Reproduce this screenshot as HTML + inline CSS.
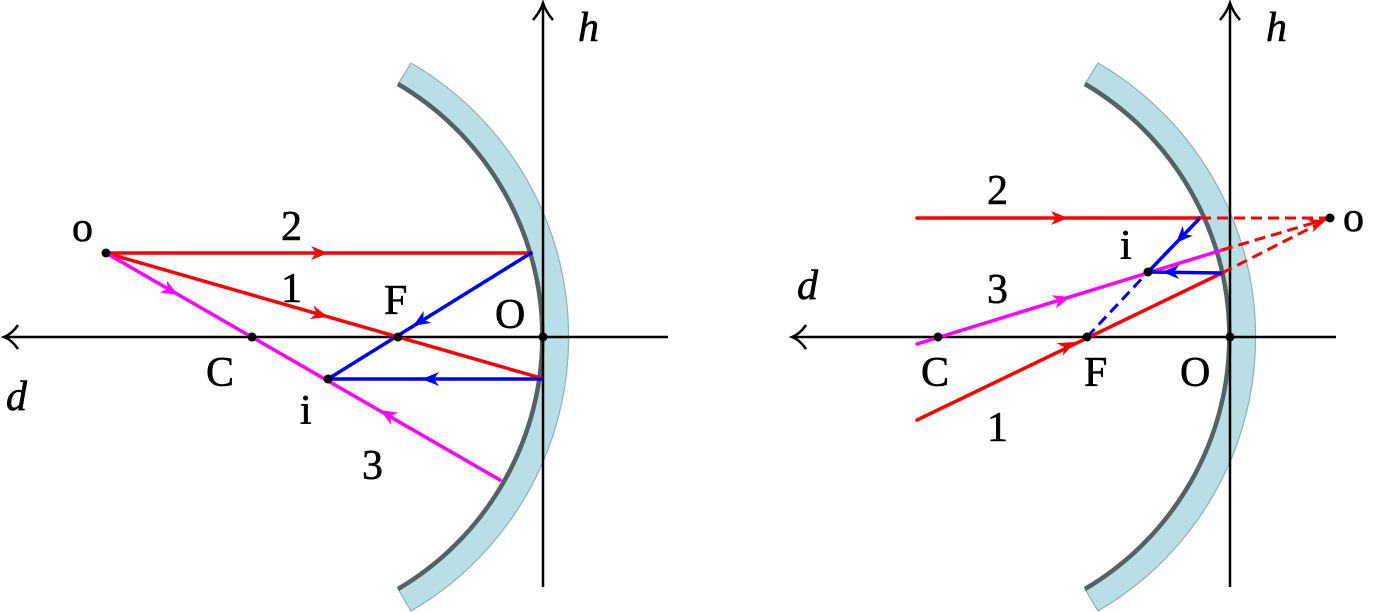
<!DOCTYPE html>
<html><head><meta charset="utf-8"><style>
html,body{margin:0;padding:0;background:#fff;}
svg{display:block;}
text{font-family:"Liberation Serif","DejaVu Serif",serif;font-size:42px;fill:#000;stroke:#000;stroke-width:0.6;}
.it{font-style:italic;}
</style></head><body>
<svg width="1377" height="612" viewBox="0 0 1377 612" xmlns="http://www.w3.org/2000/svg">
<defs>
<path id="ar" d="M0 0 L-17 -7 L-12 0 L-17 7 Z"/>
<g id="mir">
<path d="M411 63 A317 317 0 0 1 411 611 L398 589 A293 293 0 0 0 398 84 Z" fill="#b8dfe6" stroke="#8fb0b6" stroke-width="1.2"/>
<path d="M398 84 A293 293 0 0 1 398 589" fill="none" stroke="#536364" stroke-width="4.5"/>
</g>
</defs>

<!-- LEFT -->
<use href="#mir"/>
<g stroke="#000" stroke-width="2.5" fill="none">
<line x1="5" y1="337" x2="668" y2="337"/>
<path d="M18 325 Q12 334 4 337 Q12 340 18 349"/>
<line x1="543" y1="4" x2="543" y2="587"/>
<path d="M533 20 Q540 12 543 3 Q546 12 553 20"/>
</g>
<g stroke-width="3.5" fill="none" stroke-linecap="round">
<line x1="106" y1="253" x2="531" y2="253" stroke="#ff0000"/>
<line x1="106" y1="253" x2="541" y2="378" stroke="#ff0000"/>
<line x1="106" y1="253" x2="500" y2="480" stroke="#ff00ff"/>
<line x1="531" y1="253" x2="328" y2="379" stroke="#0000ff"/>
<line x1="541" y1="379" x2="328" y2="379" stroke="#0000ff"/>
</g>
<use href="#ar" fill="#ff0000" transform="translate(328,253)"/>
<use href="#ar" fill="#ff0000" transform="translate(328,317) rotate(16)"/>
<use href="#ar" fill="#ff00ff" transform="translate(178,295) rotate(30)"/>
<use href="#ar" fill="#ff00ff" transform="translate(380,410) rotate(210.5)"/>
<use href="#ar" fill="#0000ff" transform="translate(422,379) rotate(180)"/>
<use href="#ar" fill="#0000ff" transform="translate(413,326) rotate(148)"/>
<g fill="#000">
<circle cx="106" cy="253" r="4.5"/><circle cx="252" cy="337" r="4.5"/>
<circle cx="398" cy="337" r="4.5"/><circle cx="543" cy="337" r="4.5"/>
<circle cx="328" cy="379" r="4.5"/>
</g>
<text x="72" y="241">o</text>
<text x="281" y="240">2</text>
<text x="281" y="302">1</text>
<text x="384" y="314">F</text>
<text x="495" y="328">O</text>
<text x="206" y="386">C</text>
<text x="6" y="410" class="it">d</text>
<text x="300" y="424">i</text>
<text x="362" y="479">3</text>
<text x="578" y="41" class="it">h</text>

<!-- RIGHT -->
<use href="#mir" transform="translate(687,0)"/>
<g stroke="#000" stroke-width="2.5" fill="none">
<line x1="793" y1="337" x2="1336" y2="337"/>
<path d="M806 325 Q800 334 792 337 Q800 340 806 349"/>
<line x1="1230" y1="4" x2="1230" y2="587"/>
<path d="M1220 20 Q1227 12 1230 3 Q1233 12 1240 20"/>
</g>
<g stroke-width="3.5" fill="none" stroke-linecap="round">
<line x1="917" y1="218" x2="1200" y2="218" stroke="#ff0000"/>
<line x1="917" y1="420" x2="1222" y2="273" stroke="#ff0000"/>
<line x1="917" y1="344" x2="1222" y2="250" stroke="#ff00ff"/>
<line x1="1200" y1="218" x2="1148" y2="272" stroke="#0000ff"/>
<line x1="1222" y1="273" x2="1148" y2="272" stroke="#0000ff"/>
</g>
<g stroke-width="3" fill="none" stroke-dasharray="11 6">
<line x1="1200" y1="218" x2="1330" y2="218" stroke="#ff0000"/>
<line x1="1222" y1="273" x2="1330" y2="218" stroke="#ff0000"/>
<line x1="1222" y1="250" x2="1330" y2="218" stroke="#ff0000"/>
<line x1="1087" y1="337" x2="1148" y2="272" stroke="#0000ff"/>
</g>
<use href="#ar" fill="#ff0000" transform="translate(1068,218)"/>
<use href="#ar" fill="#ff0000" transform="translate(1075,342) rotate(-26)"/>
<use href="#ar" fill="#ff00ff" transform="translate(1070,297) rotate(-17)"/>
<use href="#ar" fill="#0000ff" transform="translate(1176,243) rotate(134)"/>
<use href="#ar" fill="#0000ff" transform="translate(1162,272) rotate(180)"/>
<use href="#ar" fill="#ff0000" transform="translate(1326,220) rotate(-20)"/>
<g fill="#000">
<circle cx="1330" cy="218" r="4.5"/><circle cx="938" cy="337" r="4.5"/>
<circle cx="1087" cy="337" r="4.5"/><circle cx="1230" cy="337" r="4.5"/>
<circle cx="1148" cy="272" r="4.5"/>
</g>
<text x="1343" y="231">o</text>
<text x="987" y="204">2</text>
<text x="1120" y="259">i</text>
<text x="987" y="303">3</text>
<text x="797" y="299" class="it">d</text>
<text x="921" y="386">C</text>
<text x="1084" y="386">F</text>
<text x="1180" y="386">O</text>
<text x="987" y="441">1</text>
<text x="1266" y="41" class="it">h</text>
</svg>
</body></html>
